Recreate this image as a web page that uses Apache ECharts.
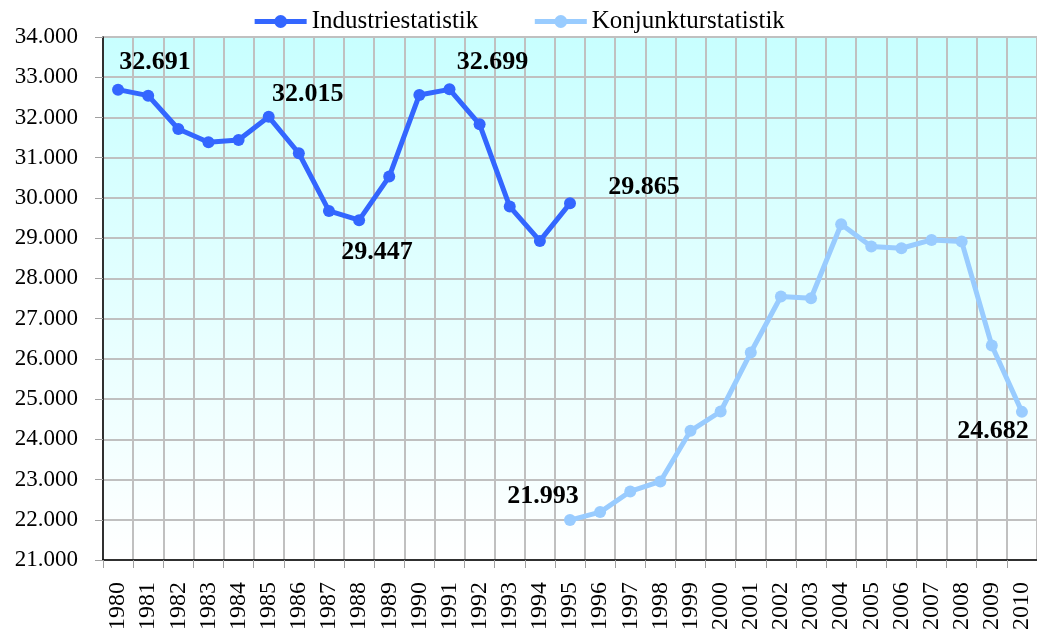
<!DOCTYPE html>
<html>
<head>
<meta charset="utf-8">
<script src="https://cdn.jsdelivr.net/npm/echarts@6/dist/echarts.min.js"></script>
<style>
html,body{margin:0;padding:0;background:#fff;}
#chart{width:1037px;height:633px;}
</style>
</head>
<body>
<div id="chart"></div>
<script>
const years = ['1980','1981','1982','1983','1984','1985','1986','1987','1988','1989','1990','1991','1992','1993','1994','1995','1996','1997','1998','1999','2000','2001','2002','2003','2004','2005','2006','2007','2008','2009','2010'];
const industrie = [32691, 32542, 31714, 31383, 31441, 32015, 31110, 29677, 29447, 30530, 32559, 32699, 31830, 29785, 28932, 29865,
  null, null, null, null, null, null, null, null, null, null, null, null, null, null, null];
const konjunktur = [null, null, null, null, null, null, null, null, null, null, null, null, null, null, null,
  21993, 22191, 22704, 22952, 24211, 24691, 26157, 27549, 27507, 29346, 28791, 28749, 28957, 28915, 26331, 24682];
const yMin = 21000, yMax = 34000, yStep = 1000;

// label placement (style only): index -> [dx, dy]
const industrieLabels = {0: [37, -27], 5: [39, -23], 8: [18, 32], 11: [43, -27], 15: [74, -16]};
const konjunkturLabels = {15: [-27, -24], 30: [-29, 19]};

const fmt = v => (v / 1000).toFixed(3);
const serif = 'Liberation Serif';

function build(values, labels) {
  return values.map((v, i) => {
    if (v === null) return null;
    if (labels[i]) {
      return {
        value: v,
        label: {
          show: true, position: 'inside', offset: labels[i],
          formatter: p => fmt(p.value),
          fontFamily: serif, fontWeight: 'bold', fontSize: 26, color: '#000'
        }
      };
    }
    return v;
  });
}

const chart = echarts.init(document.getElementById('chart'), null, {renderer: 'canvas'});
chart.setOption({
  animation: false,
  backgroundColor: '#fff',
  legend: {
    top: 4,
    left: 'center',
    itemWidth: 52,
    itemHeight: 16,
    itemGap: 54,
    lineStyle: {width: 5},
    textStyle: {fontFamily: serif, fontSize: 25, color: '#000'},
    data: ['Industriestatistik', 'Konjunkturstatistik']
  },
  grid: {
    left: 103, top: 37, width: 936, height: 523,
    show: true,
    borderWidth: 0,
    backgroundColor: {
      type: 'linear', x: 0, y: 0, x2: 0, y2: 1,
      colorStops: [{offset: 0, color: '#C8FFFF'}, {offset: 1, color: '#FFFFFF'}]
    }
  },
  xAxis: {
    type: 'category',
    data: years,
    boundaryGap: true,
    axisLine: {show: true, lineStyle: {color: '#000', width: 1.5}},
    axisTick: {show: true, length: 8, lineStyle: {color: '#A0A0A0', width: 1}},
    splitLine: {show: true, lineStyle: {color: '#C0C0C0', width: 2}},
    axisLabel: {rotate: 90, margin: 22, fontFamily: serif, fontSize: 24, color: '#000', interval: 0}
  },
  yAxis: {
    type: 'value',
    min: yMin, max: yMax, interval: yStep,
    axisLine: {show: true, lineStyle: {color: '#000', width: 1.5}},
    axisTick: {show: true, length: 8, lineStyle: {color: '#A0A0A0', width: 1}},
    splitLine: {show: true, lineStyle: {color: '#C0C0C0', width: 2}},
    axisLabel: {margin: 25, fontFamily: serif, fontSize: 23, color: '#000', formatter: fmt}
  },
  series: [
    {
      name: 'Industriestatistik',
      type: 'line',
      data: build(industrie, industrieLabels),
      color: '#3366FF',
      symbol: 'circle', symbolSize: 12,
      lineStyle: {width: 5, color: '#3366FF'},
      itemStyle: {color: '#3366FF'},
      connectNulls: false,
      z: 3
    },
    {
      name: 'Konjunkturstatistik',
      type: 'line',
      data: build(konjunktur, konjunkturLabels),
      color: '#99CCFF',
      symbol: 'circle', symbolSize: 12,
      lineStyle: {width: 5, color: '#99CCFF'},
      itemStyle: {color: '#99CCFF'},
      connectNulls: false,
      z: 2
    }
  ]
});
</script>
</body>
</html>
